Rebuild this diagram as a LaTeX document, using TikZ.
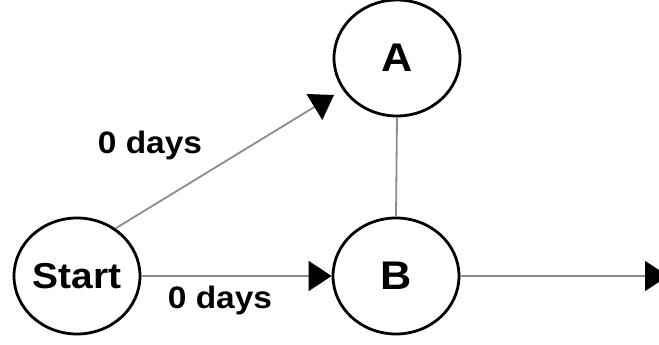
\documentclass[tikz,border=0pt]{standalone}
\usepackage{fontspec}
\setmainfont[FakeStretch=1.08]{Liberation Sans}
\usetikzlibrary{shapes.geometric,arrows.meta}
\definecolor{linkgray}{RGB}{140,140,140}
\tikzset{
  event/.style={ellipse, draw=black, line width=2.8pt, minimum width=126pt,
    minimum height=116pt, inner sep=0pt, font=\bfseries\fontsize{40}{44}\selectfont},
  startevent/.style={event, font=\bfseries\fontsize{36}{40}\selectfont},
  link/.style={draw=linkgray, line width=1.8pt},
  arrowlink/.style={link, -{Triangle[length=23pt,width=30pt,color=black]}},
  duration/.style={font=\bfseries\fontsize{31}{34}\selectfont, inner sep=0pt}
}
\begin{document}
\begin{tikzpicture}[x=1pt,y=1pt]
  \useasboundingbox (0,0) rectangle (659,345);
  \clip (0,0) rectangle (659,345);
  % events
  \node[startevent] (Start) at (77,69) {Start};
  \node[event] (A) at (397,287) {A};
  \node[event] (B) at (396,69) {B};
  % free ends of the open arrows
  \coordinate (aIn) at (334,250);
  \coordinate (out) at (668,69);
  % connectors
  \draw[arrowlink] (Start.51) -- (aIn);
  \draw[arrowlink] (Start.east) -- (B.west);
  \draw[link] (A.south) -- (B.north);
  \draw[arrowlink] (B.east) -- (out);
  % durations
  \node[duration] (d1) at (150,200) {0 days};
  \node[duration] (d2) at (220,45) {0 days};
\end{tikzpicture}
\end{document}
